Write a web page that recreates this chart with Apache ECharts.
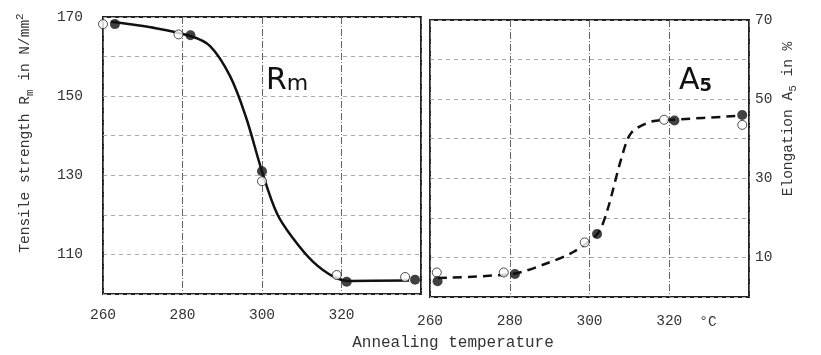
<!DOCTYPE html>
<html>
<head>
<meta charset="utf-8">
<script src="https://cdn.jsdelivr.net/npm/echarts@6/dist/echarts.min.js"></script>
<style>
  html, body { margin: 0; padding: 0; background: #fff; }
  #chart { width: 821px; height: 355px; }
</style>
</head>
<body>
<div id="chart"></div>
<script>
  // temperature ticks, shared by both panels
  var tempTicks = [260, 280, 300, 320, 340];

  // tensile strength Rm (N/mm2): measured points
  var rmOpenT = [260, 279, 300, 318.8, 336];
  var rmOpenV = [168.2, 165.6, 128.5, 104.8, 104.3];
  var rmFillT = [263, 282, 300, 321.3, 338.5];
  var rmFillV = [168.2, 165.4, 131, 103.1, 103.6];
  // traced curve
  var rmCurveT = [262, 272, 282, 287, 292, 296, 300, 303.8, 307.8, 312.8, 318, 322, 337];
  var rmCurveV = [168.8, 167.4, 165.2, 162.6, 155, 144.6, 131, 120.3, 114.1, 108.2, 104.4, 103.3, 103.4];

  // elongation A5 (%): measured points
  var a5OpenT = [261.7, 278.5, 298.8, 318.7, 338.3];
  var a5OpenV = [6.2, 6.2, 13.8, 44.8, 43.5];
  var a5FillT = [261.9, 281.3, 301.9, 321.3, 338.3];
  var a5FillV = [4.0, 5.8, 15.9, 44.6, 46.0];
  // traced curve
  var a5CurveT = [262, 281, 289, 295.8, 302, 304.5, 307.9, 310.5, 315.8, 321, 338];
  var a5CurveV = [4.8, 5.9, 8.4, 11.3, 16, 22, 34.7, 41.5, 44.4, 44.8, 45.8];

  function pairs(xs, ys) {
    return xs.map(function (x, i) { return [x, ys[i]]; });
  }

  var mono = '"Liberation Mono", "DejaVu Sans Mono", monospace';
  var txt = '#333';

  var chart = echarts.init(document.getElementById('chart'));

  function xAx(idx, labelMargin) {
    return {
      gridIndex: idx, type: 'value', min: 260, max: 340, interval: 20,
      axisLine: { show: false }, axisTick: { show: false },
      axisLabel: {
        margin: labelMargin, color: txt, fontFamily: mono, fontSize: 14.5,
        formatter: function (v) { return v === tempTicks[4] ? '' : String(v); }
      },
      splitLine: { show: true, lineStyle: { color: '#666', width: 1, type: [7, 2, 1, 2] } }
    };
  }

  function yAx(idx, pos, min, max) {
    return {
      gridIndex: idx, type: 'value', position: pos, min: min, max: max, interval: 10,
      axisLine: { show: false }, axisTick: { show: false },
      axisLabel: {
        margin: pos === 'left' ? 20 : 6, color: txt, fontFamily: mono, fontSize: 14.5,
        formatter: function (v) { return v % 20 === 10 ? String(v) : ''; }
      },
      splitLine: { show: true, lineStyle: { color: '#aaa', width: 1, type: [4, 4] } }
    };
  }

  var openStyle = { color: '#fff', borderColor: '#222', borderWidth: 1 };
  var fillStyle = { color: '#111' };

  chart.setOption({
    animation: false,
    grid: [
      { left: 103, top: 17, width: 318, height: 277, show: true, borderColor: '#222', borderWidth: 2, backgroundColor: 'transparent' },
      { left: 430, top: 20, width: 319, height: 277, show: true, borderColor: '#222', borderWidth: 2, backgroundColor: 'transparent' }
    ],
    xAxis: [xAx(0, 14), xAx(1, 17)],
    yAxis: [yAx(0, 'left', 100, 170), yAx(1, 'right', 0, 70)],
    graphic: [
      {
        type: 'text', x: 25, y: 133, rotation: Math.PI / 2,
        style: {
          text: 'Tensile strength R{sub|m} in N/mm{sup|2}',
          font: '14.5px ' + mono, fill: txt, align: 'center', verticalAlign: 'middle',
          rich: {
            sub: { font: '11px ' + mono, fill: txt, padding: [10, 0, 0, 0] },
            sup: { font: '11px ' + mono, fill: txt, padding: [0, 0, 10, 0] }
          }
        }
      },
      {
        type: 'text', x: 788, y: 119, rotation: Math.PI / 2,
        style: {
          text: 'Elongation A{sub|5} in %',
          font: '14.5px ' + mono, fill: txt, align: 'center', verticalAlign: 'middle',
          rich: { sub: { font: '11px ' + mono, fill: txt, padding: [10, 0, 0, 0] } }
        }
      },
      {
        type: 'text', x: 453, y: 343,
        style: { text: 'Annealing temperature', font: '16px ' + mono, fill: txt, align: 'center', verticalAlign: 'middle' }
      },
      {
        type: 'text', x: 708, y: 322,
        style: { text: '°C', font: '14.5px ' + mono, fill: txt, align: 'center', verticalAlign: 'middle' }
      },
      {
        type: 'text', x: 266, y: 81,
        style: {
          text: 'R{s|m}', font: '30px "DejaVu Sans", sans-serif', fill: '#111', verticalAlign: 'middle',
          rich: { s: { font: '22px "DejaVu Sans", sans-serif', fill: '#111', padding: [6, 0, 0, 0] } }
        }
      },
      {
        type: 'text', x: 679, y: 81,
        style: {
          text: 'A{s|5}', font: '30px "DejaVu Sans", sans-serif', fill: '#111', verticalAlign: 'middle',
          rich: { s: { font: 'bold 18px "DejaVu Sans", sans-serif', fill: '#111', padding: [10, 0, 0, 0] } }
        }
      }
    ],
    series: [
      {
        type: 'line', xAxisIndex: 0, yAxisIndex: 0, data: pairs(rmCurveT, rmCurveV),
        smooth: 0.35, showSymbol: false,
        lineStyle: { color: '#111', width: 2.5 }
      },
      {
        type: 'scatter', xAxisIndex: 0, yAxisIndex: 0, data: pairs(rmOpenT, rmOpenV),
        symbolSize: 9, itemStyle: openStyle, z: 3
      },
      {
        type: 'scatter', xAxisIndex: 0, yAxisIndex: 0, data: pairs(rmFillT, rmFillV),
        symbolSize: 10, itemStyle: fillStyle, z: 4
      },
      {
        type: 'line', xAxisIndex: 1, yAxisIndex: 1, data: pairs(a5CurveT, a5CurveV),
        smooth: 0.3, showSymbol: false,
        lineStyle: { color: '#111', width: 2.5, type: [9, 6] }
      },
      {
        type: 'scatter', xAxisIndex: 1, yAxisIndex: 1, data: pairs(a5OpenT, a5OpenV),
        symbolSize: 9, itemStyle: openStyle, z: 3
      },
      {
        type: 'scatter', xAxisIndex: 1, yAxisIndex: 1, data: pairs(a5FillT, a5FillV),
        symbolSize: 10, itemStyle: fillStyle, z: 4
      }
    ]
  });
</script>
</body>
</html>
